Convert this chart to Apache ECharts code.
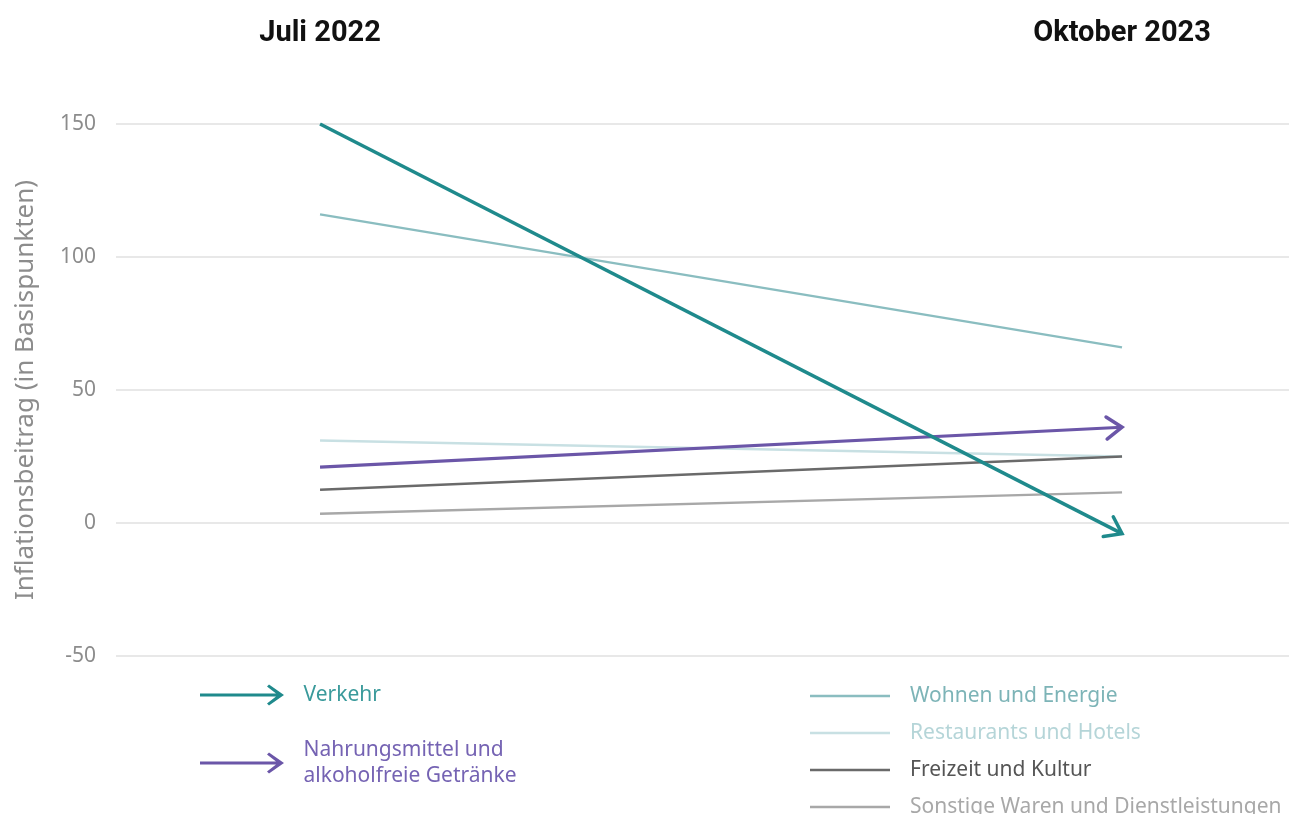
<!DOCTYPE html>
<html>
<head>
<meta charset="utf-8">
<script src="https://cdn.jsdelivr.net/npm/echarts@6/dist/echarts.min.js"></script>
<style>
  html, body { margin: 0; padding: 0; background: #ffffff; }
  #chart { width: 1289px; height: 814px; }
</style>
</head>
<body>
<div id="chart"></div>
<script>
// periods, plotted at x = 0 and x = 1
const periods = ['Juli 2022', 'Oktober 2023'];

// highlighted series (drawn with arrow heads)
const arrowNames = ['Verkehr', 'Nahrungsmittel und\nalkoholfreie Getränke'];
const verkehr = [150, -4];
const nahrung = [21, 36];

// background series
const lineNames = ['Wohnen und Energie', 'Restaurants und Hotels', 'Freizeit und Kultur', 'Sonstige Waren und Dienstleistungen'];
const wohnen = [116, 66];
const restaurants = [31, 25];
const freizeit = [12.5, 25];
const sonstige = [3.5, 11.5];

const yTicks = [-50, 0, 50, 100, 150];

const font = '"Noto Sans", sans-serif';
const gray = '#8c8c8c';

const chart = echarts.init(document.getElementById('chart'), null, { renderer: 'canvas' });

function pts(values) {
  return values.map((v, i) => [i, v]);
}

function arrowHead(params, api) {
  const p0 = api.coord([api.value(0), api.value(1)]);
  const p1 = api.coord([api.value(2), api.value(3)]);
  const ang = Math.atan2(p1[1] - p0[1], p1[0] - p0[0]);
  const len = 19;
  const spread = 0.62;
  const a1 = [p1[0] - len * Math.cos(ang - spread), p1[1] - len * Math.sin(ang - spread)];
  const a2 = [p1[0] - len * Math.cos(ang + spread), p1[1] - len * Math.sin(ang + spread)];
  return {
    type: 'polyline',
    shape: { points: [a1, p1, a2] },
    style: { stroke: api.visual('color'), lineWidth: 3.5, fill: null, lineJoin: 'miter', lineCap: 'round' }
  };
}

const arrowIcon = 'path://M0,9 L76,9 L67,2 L69,0 L84,10.5 L69,21 L67,19 L76,12 L0,12 Z';

const bgColors = ['#8abdc0', '#c8e0e3', '#6a6a6a', '#a8a8a8'];
const bgText = ['#7db4b7', '#b5d5d8', '#555555', '#a8a8a8'];
const bgData = [wohnen, restaurants, freizeit, sonstige];

const option = {
  animation: false,
  grid: { left: 116, right: 0, top: 124, bottom: 158 },
  xAxis: {
    type: 'value',
    position: 'top',
    min: -0.2544,
    max: 1.2082,
    axisLine: { show: false },
    axisTick: { show: false },
    splitLine: { show: false },
    axisLabel: {
      customValues: [0, 1],
      formatter: v => periods[Math.round(v)],
      margin: 76,
      fontFamily: 'Roboto, sans-serif',
      fontWeight: 'bold',
      fontSize: 29,
      color: '#111111'
    }
  },
  yAxis: {
    type: 'value',
    min: yTicks[0],
    max: yTicks[yTicks.length - 1],
    interval: 50,
    name: 'Inflationsbeitrag (in Basispunkten)',
    nameLocation: 'middle',
    nameGap: 77,
    nameTextStyle: { fontFamily: font, fontSize: 26, color: gray },
    axisLine: { show: false },
    axisTick: { show: false },
    axisLabel: { fontFamily: font, fontSize: 21, color: gray, margin: 20 },
    splitLine: { lineStyle: { color: '#e8e8e8', width: 2 } }
  },
  legend: [
    {
      left: 195,
      top: 677,
      height: 200,
      orient: 'vertical',
      itemWidth: 85,
      itemHeight: 21,
      itemGap: 29,
      icon: arrowIcon,
      textStyle: { fontFamily: font, fontSize: 21, lineHeight: 26, padding: [0, 0, 0, 14] },
      data: [
        { name: arrowNames[0], textStyle: { color: '#3a9a9b' } },
        { name: arrowNames[1], textStyle: { color: '#7563b3' } }
      ]
    },
    {
      left: 805,
      top: 679,
      height: 200,
      orient: 'vertical',
      itemWidth: 80,
      itemHeight: 14,
      itemGap: 13,
      textStyle: { fontFamily: font, fontSize: 21, lineHeight: 24, padding: [0, 0, 0, 15] },
      data: lineNames.map((n, i) => ({ name: n, icon: 'path://M0,5.7 L80,5.7 L80,8.3 L0,8.3 Z', textStyle: { color: bgText[i] } }))
    }
  ],
  series: [
    ...lineNames.map((n, i) => ({
      name: n,
      type: 'line',
      data: pts(bgData[i]),
      symbol: 'none',
      color: bgColors[i],
      lineStyle: { width: 2.4, color: bgColors[i] },
      z: 2
    })),
    {
      name: arrowNames[1],
      type: 'line',
      data: pts(nahrung),
      symbol: 'none',
      color: '#6b56a8',
      lineStyle: { width: 3.2, color: '#6b56a8' },
      z: 3
    },
    {
      name: arrowNames[0],
      type: 'line',
      data: pts(verkehr),
      symbol: 'none',
      color: '#1f8a8c',
      lineStyle: { width: 3.5, color: '#1f8a8c' },
      z: 4
    },
    {
      name: arrowNames[1],
      type: 'custom',
      renderItem: arrowHead,
      color: '#6b56a8',
      data: [[0, nahrung[0], 1, nahrung[1]]],
      z: 3
    },
    {
      name: arrowNames[0],
      type: 'custom',
      renderItem: arrowHead,
      color: '#1f8a8c',
      data: [[0, verkehr[0], 1, verkehr[1]]],
      z: 4
    }
  ]
};

chart.setOption(option);
</script>
</body>
</html>
